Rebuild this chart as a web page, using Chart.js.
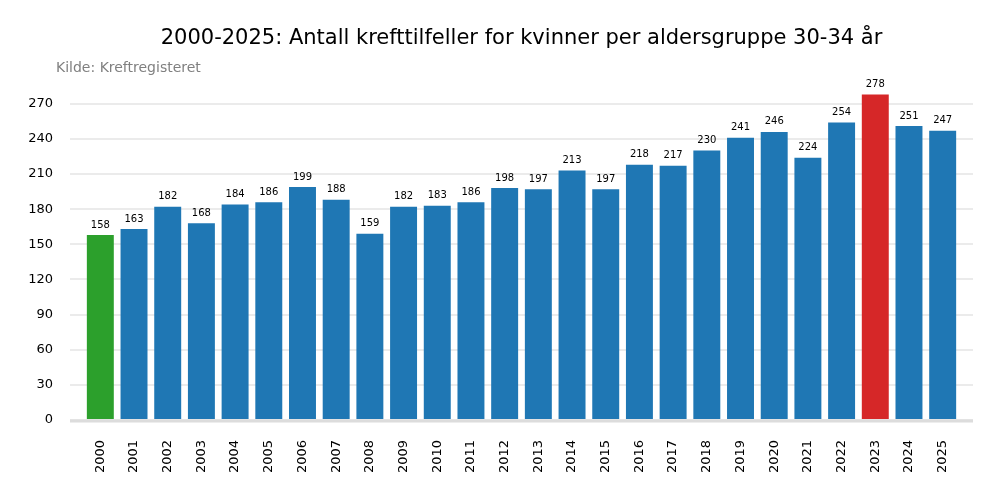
<!DOCTYPE html>
<html>
<head>
<meta charset="utf-8">
<script src="https://cdn.jsdelivr.net/npm/chart.js@4"></script>
<style>
  html, body { margin: 0; padding: 0; background: #fff; overflow: hidden; }
</style>
</head>
<body>
<canvas id="krefChart" width="1000" height="500"></canvas>
<script>
var years = ['2000', '2001', '2002', '2003', '2004', '2005', '2006', '2007', '2008', '2009', '2010', '2011', '2012',
             '2013', '2014', '2015', '2016', '2017', '2018', '2019', '2020', '2021', '2022', '2023', '2024', '2025'];
var tilfeller = [158, 163, 182, 168, 184, 186, 199, 188, 159, 182, 183, 186, 198,
                 197, 213, 197, 218, 217, 230, 241, 246, 224, 254, 278, 251, 247];
var yTicks = [0, 30, 60, 90, 120, 150, 180, 210, 240, 270];

var tittel = '2000-2025: Antall krefttilfeller for kvinner per aldersgruppe 30-34 år';
var kilde = 'Kilde: Kreftregisteret';

var blaa = '#1f77b4';
var groenn = '#2ca02c';
var roed = '#d62728';

// første år grønt, høyeste år rødt
var maks = Math.max.apply(null, tilfeller);
var farger = tilfeller.map(function(v, i) {
    if (i === 0) return groenn;
    if (v === maks) return roed;
    return blaa;
});

// tittel midt over plottet, kilde til venstre
var tittelTekst = {
    id: 'tittelTekst',
    afterDraw: function(chart) {
        var ctx = chart.ctx;
        var area = chart.chartArea;
        ctx.save();
        ctx.textBaseline = 'middle';
        ctx.textAlign = 'center';
        ctx.fillStyle = '#000';
        ctx.font = '21px "DejaVu Sans"';
        ctx.fillText(tittel, (area.left + area.right) / 2, 39);
        ctx.textAlign = 'left';
        ctx.fillStyle = '#808080';
        ctx.font = '14px "DejaVu Sans"';
        ctx.fillText(kilde, 56, 68);
        ctx.restore();
    }
};

// verdier over søylene
var verdiEtiketter = {
    id: 'verdiEtiketter',
    afterDatasetsDraw: function(chart) {
        var ctx = chart.ctx;
        var meta = chart.getDatasetMeta(0);
        ctx.save();
        ctx.font = '10px "DejaVu Sans"';
        ctx.fillStyle = '#000';
        ctx.textAlign = 'center';
        ctx.textBaseline = 'middle';
        meta.data.forEach(function(bar, i) {
            ctx.fillText(String(tilfeller[i]), bar.x, bar.y - 10);
        });
        ctx.restore();
    }
};

// kraftigere linje ved null
var nullLinje = {
    id: 'nullLinje',
    beforeDatasetsDraw: function(chart) {
        var ctx = chart.ctx;
        var y = chart.scales.y.getPixelForValue(0);
        ctx.save();
        ctx.strokeStyle = '#dcdcdc';
        ctx.lineWidth = 3;
        ctx.beginPath();
        ctx.moveTo(chart.chartArea.left, y + 1);
        ctx.lineTo(chart.chartArea.right, y + 1);
        ctx.stroke();
        ctx.restore();
    }
};

var krefChart = new Chart(document.getElementById('krefChart'), {
    type: 'bar',
    data: {
        datasets: [{
            data: tilfeller.map(function(v, i) { return { x: i, y: v }; }),
            backgroundColor: farger,
            borderWidth: 0,
            barPercentage: 0.8,
            categoryPercentage: 1.0
        }]
    },
    options: {
        responsive: false,
        animation: false,
        devicePixelRatio: 1,
        layout: { padding: { left: 0, right: 27, top: 78, bottom: 0 } },
        plugins: {
            legend: { display: false },
            tooltip: { enabled: false },
            title: { display: false }
        },
        scales: {
            x: {
                type: 'linear',
                min: -0.9,
                max: 25.9,
                offset: false,
                grid: { display: false, drawTicks: false },
                border: { display: false },
                afterBuildTicks: function(axis) {
                    axis.ticks = years.map(function(y, i) { return { value: i }; });
                },
                afterFit: function(axis) { axis.height = 80; },
                ticks: {
                    autoSkip: false,
                    maxRotation: 90,
                    minRotation: 90,
                    padding: 20,
                    color: '#000',
                    font: { family: 'DejaVu Sans', size: 13 },
                    callback: function(value) { return years[value]; }
                }
            },
            y: {
                min: 0,
                max: 292,
                grid: { color: '#ebebeb', lineWidth: 2, drawTicks: false },
                border: { display: false },
                afterBuildTicks: function(axis) {
                    axis.ticks = yTicks.map(function(v) { return { value: v }; });
                },
                afterFit: function(axis) { axis.width = 70; },
                ticks: {
                    padding: 17,
                    color: '#000',
                    font: { family: 'DejaVu Sans', size: 13 }
                }
            }
        }
    },
    plugins: [nullLinje, verdiEtiketter, tittelTekst]
});
</script>
</body>
</html>
